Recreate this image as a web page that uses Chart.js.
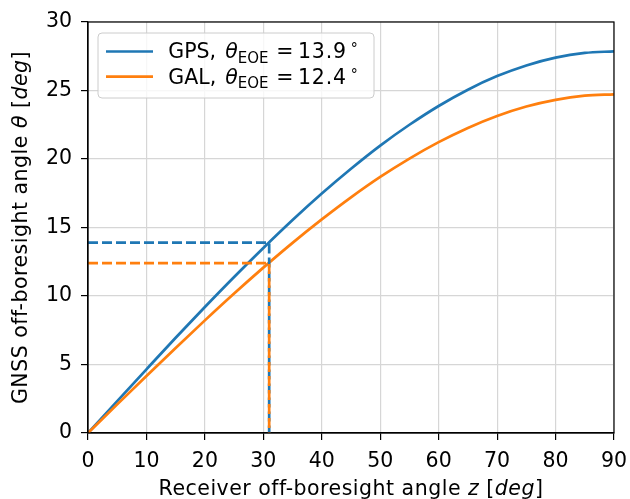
<!DOCTYPE html>
<html>
<head>
<meta charset="utf-8">
<script src="https://cdn.jsdelivr.net/npm/chart.js@4.4.1/dist/chart.umd.min.js"></script>
<style>
  body { margin: 0; background: #fff; }
  canvas { display: block; }
</style>
</head>
<body>
<canvas id="chart" width="630" height="499"></canvas>
<script>
// receiver off-boresight angle z [deg]
const zAngles = [0, 5, 10, 15, 20, 25, 30, 35, 40, 45, 50, 55, 60, 65, 70, 75, 80, 85, 90];
// GNSS off-boresight angle theta [deg]
const gpsTheta = [0, 2.33, 4.65, 6.95, 9.2, 11.39, 13.51, 15.55, 17.48, 19.29, 20.98, 22.5, 23.87, 25.06, 26.05, 26.83, 27.4, 27.74, 27.86];
const galTheta = [0, 2.09, 4.16, 6.21, 8.22, 10.18, 12.07, 13.88, 15.59, 17.2, 18.69, 20.03, 21.23, 22.27, 23.14, 23.83, 24.32, 24.62, 24.72];
// edge-of-earth markers
const zEoe = 31;
const gpsEoe = 13.9;
const galEoe = 12.4;
const xTicks = [0, 10, 20, 30, 40, 50, 60, 70, 80, 90];
const yTicks = [0, 5, 10, 15, 20, 25, 30];

const BLUE = "#1f77b4";
const ORANGE = "#ff7f0e";
const FONT = '"DejaVu Sans", sans-serif';
const base = "20.5px " + FONT;
const ital = "italic 20.5px " + FONT;
const small = "15px " + FONT;
const tiny = "14px " + FONT;

function pts(xs, ys) {
    return xs.map((x, i) => ({ x: x, y: ys[i] }));
}

// draw a run of text pieces with different fonts
function drawPieces(ctx, pieces, x, y, center) {
    let w = 0;
    pieces.forEach(p => { ctx.font = p.f; w += ctx.measureText(p.t).width; });
    let cx = center ? x - w / 2 : x;
    pieces.forEach(p => {
        ctx.font = p.f;
        ctx.fillText(p.t, cx, y + (p.dy || 0));
        cx += ctx.measureText(p.t).width;
    });
}

const extras = {
    id: "extras",
    afterDraw(chart) {
        const ctx = chart.ctx;
        const a = chart.chartArea;
        ctx.save();
        // top and right spines
        ctx.strokeStyle = "#000";
        ctx.lineWidth = 1.2;
        ctx.strokeRect(a.left, a.top, a.right - a.left, a.bottom - a.top);

        ctx.fillStyle = "#000";
        ctx.textBaseline = "alphabetic";
        ctx.textAlign = "left";
        ctx.letterSpacing = "0.5px";

        // x axis title
        drawPieces(ctx, [
            { t: "Receiver off-boresight angle ", f: base },
            { t: "z", f: ital },
            { t: " [", f: base },
            { t: "deg", f: ital },
            { t: "]", f: base }
        ], (a.left + a.right) / 2, 494.5, true);

        // y axis title
        ctx.save();
        ctx.translate(27, (a.top + a.bottom) / 2);
        ctx.rotate(-Math.PI / 2);
        drawPieces(ctx, [
            { t: "GNSS off-boresight angle ", f: base },
            { t: "θ", f: ital },
            { t: " [", f: base },
            { t: "deg", f: ital },
            { t: "]", f: base }
        ], 0, 0, true);
        ctx.restore();
        ctx.letterSpacing = "0px";

        // legend
        const lx = 98, ly = 33, lw = 276, lh = 65, r = 4;
        ctx.beginPath();
        ctx.moveTo(lx + r, ly);
        ctx.arcTo(lx + lw, ly, lx + lw, ly + lh, r);
        ctx.arcTo(lx + lw, ly + lh, lx, ly + lh, r);
        ctx.arcTo(lx, ly + lh, lx, ly, r);
        ctx.arcTo(lx, ly, lx + lw, ly, r);
        ctx.closePath();
        ctx.fillStyle = "rgba(255,255,255,0.8)";
        ctx.fill();
        ctx.strokeStyle = "#cccccc";
        ctx.lineWidth = 1;
        ctx.stroke();

        const rows = [
            { name: "GPS,", val: gpsEoe.toFixed(1), c: BLUE, y: 51.5, base: 58.3 },
            { name: "GAL,", val: galEoe.toFixed(1), c: ORANGE, y: 76.7, base: 83.8 }
        ];
        rows.forEach(row => {
            ctx.strokeStyle = row.c;
            ctx.lineWidth = 2.7;
            ctx.beginPath();
            ctx.moveTo(106, row.y);
            ctx.lineTo(153, row.y);
            ctx.stroke();
            ctx.fillStyle = "#000";
            const x0 = 168.3;
            ctx.font = base; ctx.fillText(row.name, x0, row.base);
            ctx.font = ital; ctx.fillText("θ", x0 + 57, row.base);
            ctx.font = small; ctx.fillText("EOE", x0 + 69.5, row.base + 4.4);
            ctx.font = base; ctx.fillText("=", x0 + 108, row.base);
            ctx.letterSpacing = "0.8px";
            ctx.font = base; ctx.fillText(row.val, x0 + 129.7, row.base);
            ctx.letterSpacing = "0px";
            ctx.font = tiny; ctx.fillText("°", x0 + 182.5, row.base - 5);
        });
        ctx.restore();
    }
};

new Chart(document.getElementById("chart"), {
    type: "line",
    data: {
        datasets: [
            {
                label: "GAL EOE",
                data: [{ x: 0, y: galEoe }, { x: zEoe, y: galEoe }, { x: zEoe, y: 0 }],
                borderColor: ORANGE, borderWidth: 2.7, borderDash: [10, 4],
                pointRadius: 0, tension: 0, order: 0
            },
            {
                label: "GPS EOE",
                data: [{ x: 0, y: gpsEoe }, { x: zEoe, y: gpsEoe }, { x: zEoe, y: 0 }],
                borderColor: BLUE, borderWidth: 2.7, borderDash: [10, 4],
                pointRadius: 0, tension: 0, order: 1
            },
            {
                label: "GAL",
                data: pts(zAngles, galTheta),
                borderColor: ORANGE, borderWidth: 2.7,
                pointRadius: 0, cubicInterpolationMode: "monotone", order: 2
            },
            {
                label: "GPS",
                data: pts(zAngles, gpsTheta),
                borderColor: BLUE, borderWidth: 2.7,
                pointRadius: 0, cubicInterpolationMode: "monotone", order: 3
            }
        ]
    },
    options: {
        responsive: false,
        animation: false,
        layout: { padding: { left: 0, right: 16, top: 22, bottom: 0 } },
        plugins: { legend: { display: false }, tooltip: { enabled: false } },
        scales: {
            x: {
                type: "linear", min: 0, max: 90,
                afterFit(s) { s.height = 66; s.paddingLeft = 0; s.paddingRight = 0; },
                afterBuildTicks(s) { s.ticks = xTicks.map(v => ({ value: v })); },
                grid: { color: "#d6d6d6", lineWidth: 1.2, tickColor: "#000", tickLength: 7, tickWidth: 1.2 },
                border: { color: "#000", width: 1.2 },
                ticks: { color: "#000", font: { family: FONT, size: 20.5 }, padding: 9, maxRotation: 0 }
            },
            y: {
                min: 0, max: 30,
                afterFit(s) { s.width = 88; s.paddingTop = 0; s.paddingBottom = 0; },
                afterBuildTicks(s) { s.ticks = yTicks.map(v => ({ value: v })); },
                grid: { color: "#d6d6d6", lineWidth: 1.2, tickColor: "#000", tickLength: 7, tickWidth: 1.2 },
                border: { color: "#000", width: 1.2 },
                ticks: { color: "#000", font: { family: FONT, size: 20.5 }, padding: 9 }
            }
        }
    },
    plugins: [extras]
});
</script>
</body>
</html>
